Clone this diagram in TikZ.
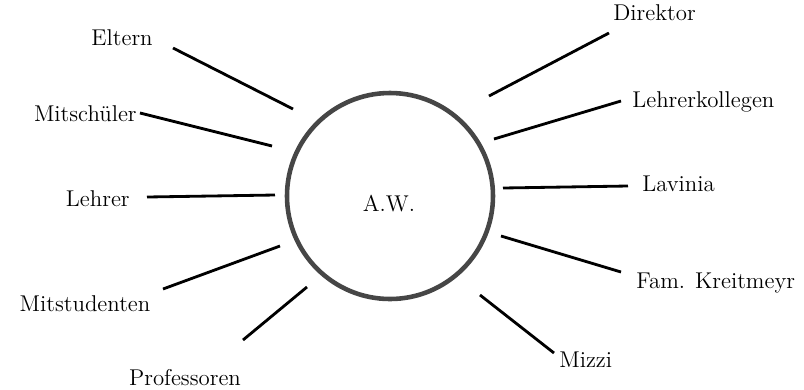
\documentclass[tikz,border=0pt]{standalone}
\usepackage{tikz}
\usetikzlibrary{positioning}
\definecolor{RingGray}{RGB}{70,70,70}

\begin{document}
\begin{tikzpicture}[
          ring/.style={circle, draw=RingGray, line width=2.6pt,
                       minimum size=4.12cm, inner sep=0pt},
          lbl/.style={inner sep=0pt, font=\fontsize{13}{15}\selectfont},
          spoke/.style={draw=black, line width=1.6pt}
        ]
        \useasboundingbox (-7.8,-3.86) rectangle (8.28,3.92);

        \node[ring] (ring) at (0, 0) {};
        \node[lbl, anchor=base] (aw) at (-0.02, -0.30) {A.W.};

        % left side
        \node[lbl, anchor=base east] (elt)  at (-4.74,  3.02) {Eltern};
        \node[lbl, anchor=base east] (msch) at (-5.06,  1.50) {Mitschüler};
        \node[lbl, anchor=base east] (lehr) at (-5.20, -0.20) {Lehrer};
        \node[lbl, anchor=base]      (mstu) at (-6.10, -2.30) {Mitstudenten};
        \node[lbl, anchor=base]      (prof) at (-4.10, -3.78) {Professoren};

        % right side
        \node[lbl, anchor=base west] (dir)  at (4.46,  3.52) {Direktor};
        \node[lbl, anchor=base west] (lkol) at (4.84,  1.78) {Lehrerkollegen};
        \node[lbl, anchor=base west] (lav)  at (5.04,  0.10) {Lavinia};
        \node[lbl, anchor=base west] (kreit) at (4.92, -1.84) {Fam. Kreitmeyr};
        \node[lbl, anchor=base west] (miz)  at (3.38, -3.42) {Mizzi};

        \coordinate (elt-a)  at (-1.94,  1.74);  \coordinate (elt-b)  at (-4.34,  2.96);
        \coordinate (msch-a) at (-2.36,  1.00);  \coordinate (msch-b) at (-5.00,  1.66);
        \coordinate (lehr-a) at (-2.30,  0.02);  \coordinate (lehr-b) at (-4.86, -0.02);
        \coordinate (mstu-a) at (-2.20, -1.00);  \coordinate (mstu-b) at (-4.54, -1.86);
        \coordinate (prof-a) at (-1.66, -1.82);  \coordinate (prof-b) at (-2.94, -2.88);
        \coordinate (dir-a)  at (1.98,  2.00);   \coordinate (dir-b)  at (4.38,  3.26);
        \coordinate (lkol-a) at (2.08,  1.14);   \coordinate (lkol-b) at (4.62,  1.90);
        \coordinate (lav-a)  at (2.26,  0.16);   \coordinate (lav-b)  at (4.76,  0.20);
        \coordinate (kreit-a) at (2.22, -0.80);  \coordinate (kreit-b) at (4.62, -1.52);
        \coordinate (miz-a)  at (1.80, -1.98);   \coordinate (miz-b)  at (3.28, -3.14);

        \foreach \n in {elt, msch, lehr, mstu, prof, dir, lkol, lav, kreit, miz} {
          \draw[spoke] (\n-a) -- (\n-b);
        }
      \end{tikzpicture}
\end{document}
